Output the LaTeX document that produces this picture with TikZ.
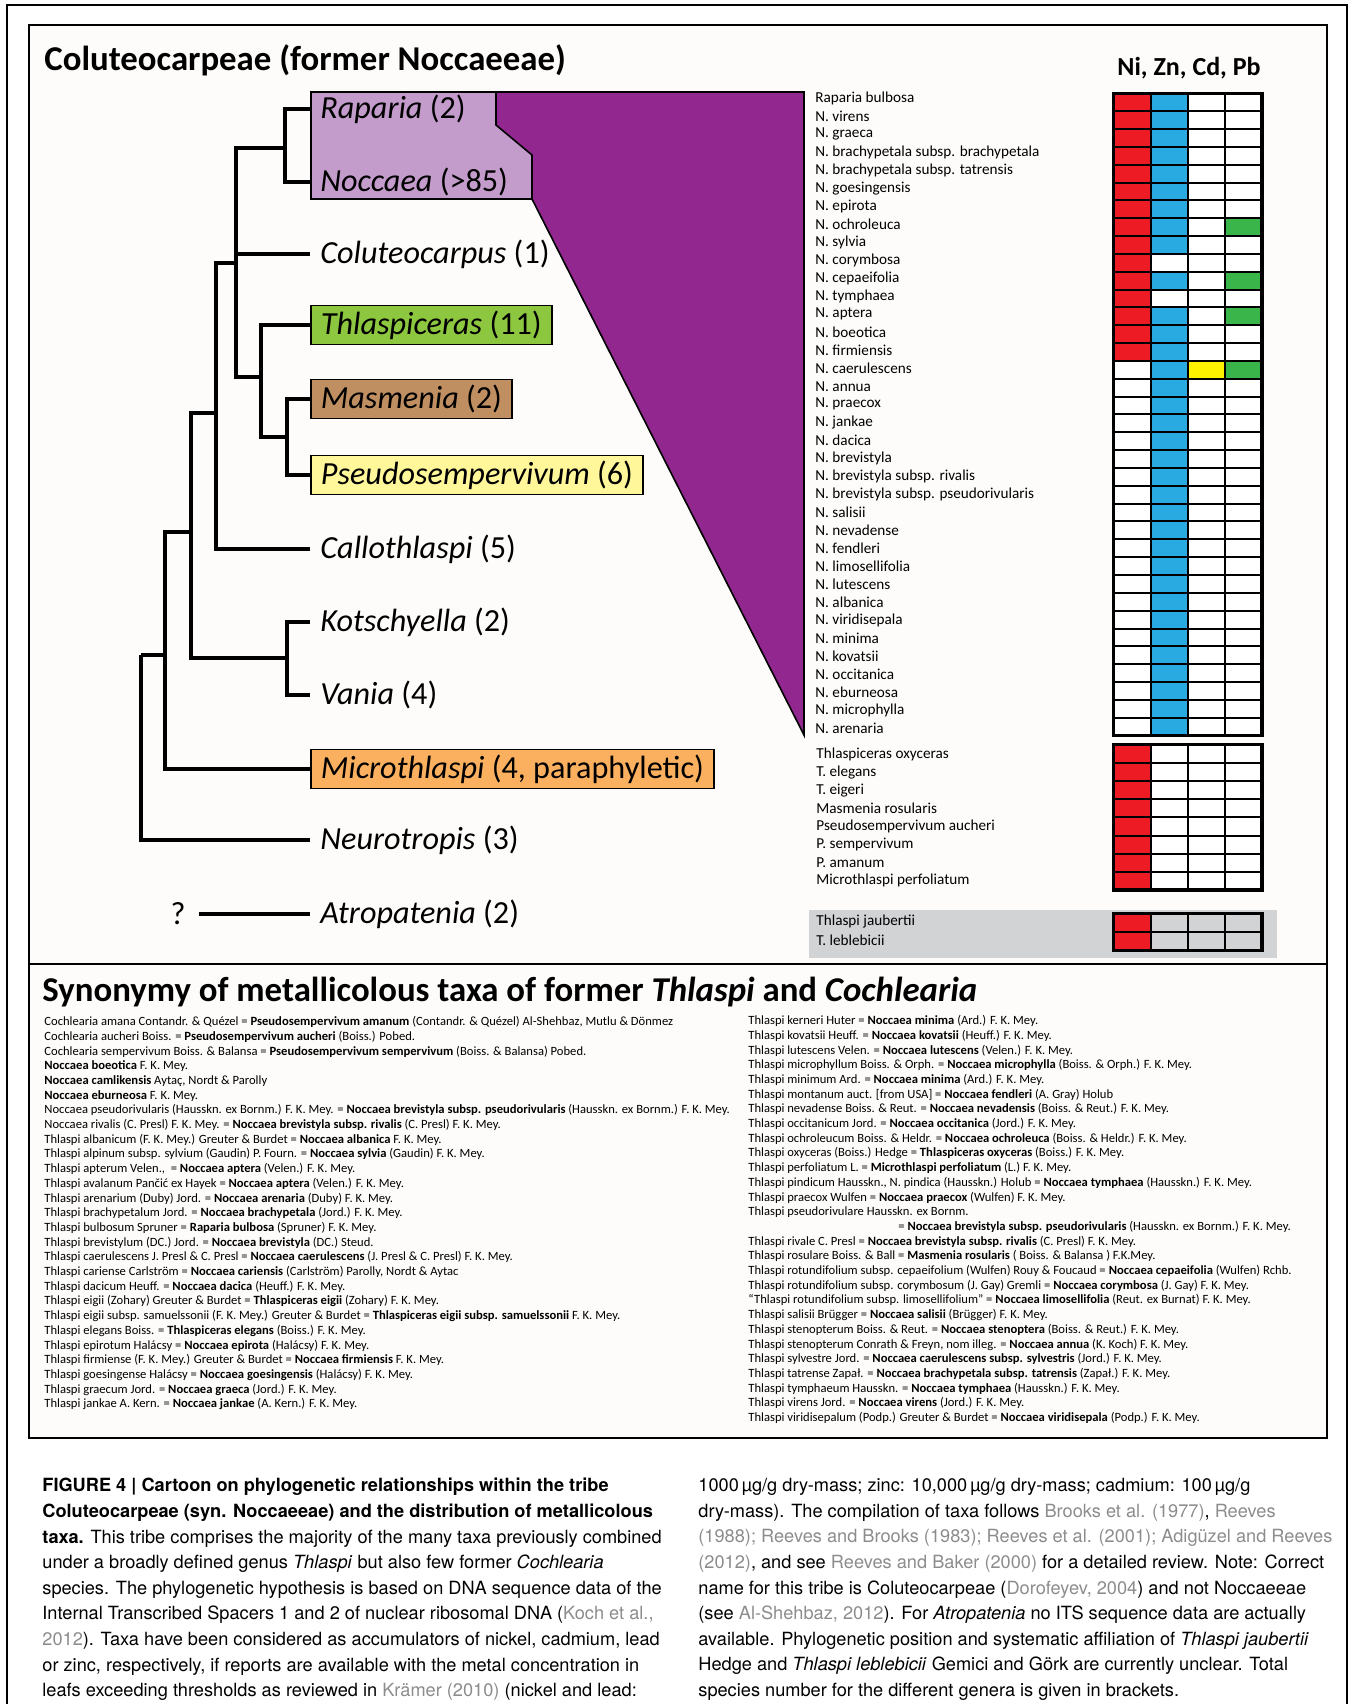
\documentclass[tikz,border=0pt]{standalone}
\usepackage{fontspec}
\setmainfont{Carlito}
\newfontfamily\capfont{TeX Gyre Heros}
\usetikzlibrary{calc}
\definecolor{panel}{RGB}{254,252,250}
\definecolor{lightpurple}{RGB}{196,156,204}
\definecolor{darkpurple}{RGB}{146,39,143}
\definecolor{thlgreen}{RGB}{141,198,63}
\definecolor{masbrown}{RGB}{192,143,97}
\definecolor{pseudoyellow}{RGB}{255,247,153}
\definecolor{microorange}{RGB}{251,176,96}
\definecolor{nired}{RGB}{237,28,36}
\definecolor{znblue}{RGB}{41,171,226}
\definecolor{cdyellow}{RGB}{255,242,0}
\definecolor{pbgreen}{RGB}{57,181,74}
\definecolor{graybg}{RGB}{209,211,212}
\definecolor{linkgray}{RGB}{140,140,140}
\tikzset{
    branch/.style = {
        line width=2.2pt,
        line join=miter,
        },
    taxon/.style = {
        anchor=west,
        inner xsep=5pt,
        inner ysep=0pt,
        minimum height=19.5pt,
        font=\fontsize{16.1}{18}\selectfont,
        },
    boxed/.style = {
        taxon,
        draw,
        line width=0.9pt,
        fill=#1,
        },
    species/.style = {
        anchor=west,
        inner sep=0pt,
        font=\fontsize{7.6}{9}\selectfont,
        },
    cell/.style = {
        draw,
        line width=1pt,
        },
    gridframe/.style = {
        draw,
        line width=1.6pt,
        },
    heading/.style = {
        anchor=base west,
        inner sep=0pt,
        font=\fontsize{17.4}{20}\selectfont\bfseries,
        },
    synonym/.style = {
        anchor=north west,
        inner sep=0pt,
        align=left,
        font=\fontsize{6.3}{7.35}\selectfont,
        },
    caption/.style = {
        anchor=north west,
        inner sep=0pt,
        align=left,
        font=\capfont\fontsize{9.1}{12.8}\selectfont,
        },
}

\begin{document}
\begin{tikzpicture}[x=0.5pt,y=-0.5pt]
    \useasboundingbox (0,0) rectangle (1356,1704);
    % page and panels
    \draw[line width=0.6pt] (7,1704) -- (7,5) -- (1347,5) -- (1347,1704);
    \draw[line width=1.4pt, fill=panel] (29,25) rectangle (1327,1438);
    \draw[line width=1.4pt] (29,964) -- (1327,964);
    \fill[graybg] (809,910) rectangle (1277,958);

    \node[heading] (title) at (44,70) {Coluteocarpeae (former Noccaeeae)};
    \node[anchor=base, inner sep=0pt, font=\fontsize{13}{15}\selectfont\bfseries] (metals) at (1189,75) {Ni, Zn, Cd, Pb};

    % Raparia + Noccaea, opened up into the species list
    \draw[line width=0.8pt, fill=lightpurple] (311,92) rectangle (532,199);
    \draw[line width=0.8pt, fill=darkpurple] (496,92) -- (804,92) -- (804,735) -- (532,199) -- (532,155) -- (496,125) -- cycle;

    \node[taxon] (raparia) at (310,109) {\textit{Raparia} (2)};
    \node[taxon] (noccaea) at (310,182) {\textit{Noccaea} (>85)};
    \node[taxon] (colut) at (310,254) {\textit{Coluteocarpus} (1)};
    \node[boxed=thlgreen] (thlasp) at (310,325) {\textit{Thlaspiceras} (11)};
    \node[boxed=masbrown] (masm) at (310,399) {\textit{Masmenia} (2)};
    \node[boxed=pseudoyellow] (pseudo) at (310,475) {\textit{Pseudosempervivum} (6)};
    \node[taxon] (callo) at (310,549) {\textit{Callothlaspi} (5)};
    \node[taxon] (kotsch) at (310,622) {\textit{Kotschyella} (2)};
    \node[taxon] (vania) at (310,695) {\textit{Vania} (4)};
    \node[boxed=microorange] (micro) at (310,769) {\textit{Microthlaspi} (4, paraphyletic)};
    \node[taxon] (neuro) at (310,840) {\textit{Neurotropis} (3)};
    \node[taxon] (atrop) at (310,914) {\textit{Atropatenia} (2)};
    \node[font=\fontsize{16.1}{18}\selectfont, inner xsep=6.5pt] (q) at (178,914) {?};

    \coordinate (n1) at (285,148);
    \coordinate (n2) at (236,263);
    \coordinate (n3) at (261,377);
    \coordinate (n4) at (287,437);
    \coordinate (n5) at (216,413);
    \coordinate (n6) at (191,532);
    \coordinate (n7) at (287,658);
    \coordinate (n8) at (165,655);
    \coordinate (n9) at (141,655);

    \draw[branch] (n1) |- (raparia.west);
    \draw[branch] (n1) |- (noccaea.west);
    \draw[branch] (n2) |- (n1);
    \draw[branch] (n2) |- (colut.west);
    \draw[branch] (n2) |- (n3);
    \draw[branch] (n3) |- (thlasp.west);
    \draw[branch] (n3) |- (n4);
    \draw[branch] (n4) |- (masm.west);
    \draw[branch] (n4) |- (pseudo.west);
    \draw[branch] (n5) |- (n2);
    \draw[branch] (n5) |- (callo.west);
    \draw[branch] (n6) |- (n5);
    \draw[branch] (n6) |- (n7);
    \draw[branch] (n7) |- (kotsch.west);
    \draw[branch] (n7) |- (vania.west);
    \draw[branch] (n8) |- (n6);
    \draw[branch] (n8) |- (micro.west);
    \draw[branch] (n9) |- (n8);
    \draw[branch] (n9) |- (neuro.west);
    \draw[branch] (q) -- (atrop);

    % Noccaea clade: Ni, Zn, Cd, Pb
    \foreach \nm/\cNi/\cZn/\cCd/\cPb [count=\i from 0] in {
        Raparia bulbosa/nired/znblue/white/white,
        N. virens/nired/znblue/white/white,
        N. graeca/nired/znblue/white/white,
        N. brachypetala subsp. brachypetala/nired/znblue/white/white,
        N. brachypetala subsp. tatrensis/nired/znblue/white/white,
        N. goesingensis/nired/znblue/white/white,
        N. epirota/nired/znblue/white/white,
        N. ochroleuca/nired/znblue/white/pbgreen,
        N. sylvia/nired/znblue/white/white,
        N. corymbosa/nired/white/white/white,
        N. cepaeifolia/nired/znblue/white/pbgreen,
        N. tymphaea/nired/white/white/white,
        N. aptera/nired/znblue/white/pbgreen,
        N. boeotica/nired/znblue/white/white,
        N. firmiensis/nired/znblue/white/white,
        N. caerulescens/white/znblue/cdyellow/pbgreen,
        N. annua/white/znblue/white/white,
        N. praecox/white/znblue/white/white,
        N. jankae/white/znblue/white/white,
        N. dacica/white/znblue/white/white,
        N. brevistyla/white/znblue/white/white,
        N. brevistyla subsp. rivalis/white/znblue/white/white,
        N. brevistyla subsp. pseudorivularis/white/znblue/white/white,
        N. salisii/white/znblue/white/white,
        N. nevadense/white/znblue/white/white,
        N. fendleri/white/znblue/white/white,
        N. limosellifolia/white/znblue/white/white,
        N. lutescens/white/znblue/white/white,
        N. albanica/white/znblue/white/white,
        N. viridisepala/white/znblue/white/white,
        N. minima/white/znblue/white/white,
        N. kovatsii/white/znblue/white/white,
        N. occitanica/white/znblue/white/white,
        N. eburneosa/white/znblue/white/white,
        N. microphylla/white/znblue/white/white,
        N. arenaria/white/znblue/white/white}{
        \node[species] (sp\i) at (815,{98.3+18*\i}) {\nm};
        \foreach \c [count=\j from 0] in {\cNi,\cZn,\cCd,\cPb}
            \draw[cell, fill=\c] ({1113.5+37.1*\j},{93.3+17.84*\i}) rectangle ++(37.1,17.84);
    }
    \draw[gridframe] (1113.5,93.3) rectangle (1261.9,735.5);

    % other genera
    \foreach \nm [count=\i from 0] in {Thlaspiceras oxyceras, T. elegans, T. eigeri,
        Masmenia rosularis, Pseudosempervivum aucheri, P. sempervivum, P. amanum,
        Microthlaspi perfoliatum}{
        \node[species] (gen\i) at (816,{754.5+17.97*\i}) {\nm};
        \foreach \c [count=\j from 0] in {nired,white,white,white}
            \draw[cell, fill=\c] ({1113.5+37.1*\j},{744.8+18.15*\i}) rectangle ++(37.1,18.15);
    }
    \draw[gridframe] (1113.5,744.8) rectangle (1261.9,890);

    % unclear position
    \foreach \nm [count=\i from 0] in {Thlaspi jaubertii, T. leblebicii}{
        \node[species] (unc\i) at (816,{922+18.4*\i}) {\nm};
        \foreach \c [count=\j from 0] in {nired,none,none,none}
            \draw[cell, fill=\c] ({1113.5+37.1*\j},{913.4+18.45*\i}) rectangle ++(37.1,18.45);
    }
    \draw[gridframe] (1113.5,913.4) rectangle (1261.9,950.3);

    % synonymy
    \node[heading] (syntitle) at (42,1001) {Synonymy of metallicolous taxa of former \textit{Thlaspi} and \textit{Cochlearia}};
    \node[synonym] (synleft) at (44,1016) {%
        Cochlearia amana Contandr. \& Quézel = \textbf{Pseudosempervivum amanum} (Contandr. \& Quézel) Al-Shehbaz, Mutlu \& Dönmez\\
        Cochlearia aucheri Boiss. = \textbf{Pseudosempervivum aucheri} (Boiss.) Pobed.\\
        Cochlearia sempervivum Boiss. \& Balansa = \textbf{Pseudosempervivum sempervivum} (Boiss. \& Balansa) Pobed.\\
        \textbf{Noccaea boeotica} F. K. Mey.\\
        \textbf{Noccaea camlikensis} Aytaç, Nordt \& Parolly\\
        \textbf{Noccaea eburneosa} F. K. Mey.\\
        Noccaea pseudorivularis (Hausskn. ex Bornm.) F. K. Mey. = \textbf{Noccaea brevistyla subsp. pseudorivularis} (Hausskn. ex Bornm.) F. K. Mey.\\
        Noccaea rivalis (C. Presl) F. K. Mey. = \textbf{Noccaea brevistyla subsp. rivalis} (C. Presl) F. K. Mey.\\
        Thlaspi albanicum (F. K. Mey.) Greuter \& Burdet = \textbf{Noccaea albanica} F. K. Mey.\\
        Thlaspi alpinum subsp. sylvium (Gaudin) P. Fourn. = \textbf{Noccaea sylvia} (Gaudin) F. K. Mey.\\
        Thlaspi apterum Velen., ~= \textbf{Noccaea aptera} (Velen.) F. K. Mey.\\
        Thlaspi avalanum Pančić ex Hayek = \textbf{Noccaea aptera} (Velen.) F. K. Mey.\\
        Thlaspi arenarium (Duby) Jord. = \textbf{Noccaea arenaria} (Duby) F. K. Mey.\\
        Thlaspi brachypetalum Jord. = \textbf{Noccaea brachypetala} (Jord.) F. K. Mey.\\
        Thlaspi bulbosum Spruner = \textbf{Raparia bulbosa} (Spruner) F. K. Mey.\\
        Thlaspi brevistylum (DC.) Jord. = \textbf{Noccaea brevistyla} (DC.) Steud.\\
        Thlaspi caerulescens J. Presl \& C. Presl = \textbf{Noccaea caerulescens} (J. Presl \& C. Presl) F. K. Mey.\\
        Thlaspi cariense Carlström = \textbf{Noccaea cariensis} (Carlström) Parolly, Nordt \& Aytac\\
        Thlaspi dacicum Heuff. = \textbf{Noccaea dacica} (Heuff.) F. K. Mey.\\
        Thlaspi eigii (Zohary) Greuter \& Burdet = \textbf{Thlaspiceras eigii} (Zohary) F. K. Mey.\\
        Thlaspi eigii subsp. samuelssonii (F. K. Mey.) Greuter \& Burdet = \textbf{Thlaspiceras eigii subsp. samuelssonii} F. K. Mey.\\
        Thlaspi elegans Boiss. = \textbf{Thlaspiceras elegans} (Boiss.) F. K. Mey.\\
        Thlaspi epirotum Halácsy = \textbf{Noccaea epirota} (Halácsy) F. K. Mey.\\
        Thlaspi firmiense (F. K. Mey.) Greuter \& Burdet = \textbf{Noccaea firmiensis} F. K. Mey.\\
        Thlaspi goesingense Halácsy = \textbf{Noccaea goesingensis} (Halácsy) F. K. Mey.\\
        Thlaspi graecum Jord. = \textbf{Noccaea graeca} (Jord.) F. K. Mey.\\
        Thlaspi jankae A. Kern. = \textbf{Noccaea jankae} (A. Kern.) F. K. Mey.};
    \node[synonym] (synright) at (748,1015) {%
        Thlaspi kerneri Huter = \textbf{Noccaea minima} (Ard.) F. K. Mey.\\
        Thlaspi kovatsii Heuff. = \textbf{Noccaea kovatsii} (Heuff.) F. K. Mey.\\
        Thlaspi lutescens Velen. = \textbf{Noccaea lutescens} (Velen.) F. K. Mey.\\
        Thlaspi microphyllum Boiss. \& Orph. = \textbf{Noccaea microphylla} (Boiss. \& Orph.) F. K. Mey.\\
        Thlaspi minimum Ard. = \textbf{Noccaea minima} (Ard.) F. K. Mey.\\
        Thlaspi montanum auct. [from USA] = \textbf{Noccaea fendleri} (A. Gray) Holub\\
        Thlaspi nevadense Boiss. \& Reut. = \textbf{Noccaea nevadensis} (Boiss. \& Reut.) F. K. Mey.\\
        Thlaspi occitanicum Jord. = \textbf{Noccaea occitanica} (Jord.) F. K. Mey.\\
        Thlaspi ochroleucum Boiss. \& Heldr. = \textbf{Noccaea ochroleuca} (Boiss. \& Heldr.) F. K. Mey.\\
        Thlaspi oxyceras (Boiss.) Hedge = \textbf{Thlaspiceras oxyceras} (Boiss.) F. K. Mey.\\
        Thlaspi perfoliatum L. = \textbf{Microthlaspi perfoliatum} (L.) F. K. Mey.\\
        Thlaspi pindicum Hausskn., N. pindica (Hausskn.) Holub = \textbf{Noccaea tymphaea} (Hausskn.) F. K. Mey.\\
        Thlaspi praecox Wulfen = \textbf{Noccaea praecox} (Wulfen) F. K. Mey.\\
        Thlaspi pseudorivulare Hausskn. ex Bornm.\\
        \hspace*{75pt}= \textbf{Noccaea brevistyla subsp. pseudorivularis} (Hausskn. ex Bornm.) F. K. Mey.\\
        Thlaspi rivale C. Presl = \textbf{Noccaea brevistyla subsp. rivalis} (C. Presl) F. K. Mey.\\
        Thlaspi rosulare Boiss. \& Ball = \textbf{Masmenia rosularis} ( Boiss. \& Balansa ) F.K.Mey.\\
        Thlaspi rotundifolium subsp. cepaeifolium (Wulfen) Rouy \& Foucaud = \textbf{Noccaea cepaeifolia} (Wulfen) Rchb.\\
        Thlaspi rotundifolium subsp. corymbosum (J. Gay) Gremli = \textbf{Noccaea corymbosa} (J. Gay) F. K. Mey.\\
        ``Thlaspi rotundifolium subsp. limosellifolium'' = \textbf{Noccaea limosellifolia} (Reut. ex Burnat) F. K. Mey.\\
        Thlaspi salisii Brügger = \textbf{Noccaea salisii} (Brügger) F. K. Mey.\\
        Thlaspi stenopterum Boiss. \& Reut. = \textbf{Noccaea stenoptera} (Boiss. \& Reut.) F. K. Mey.\\
        Thlaspi stenopterum Conrath \& Freyn, nom illeg. = \textbf{Noccaea annua} (K. Koch) F. K. Mey.\\
        Thlaspi sylvestre Jord. = \textbf{Noccaea caerulescens subsp. sylvestris} (Jord.) F. K. Mey.\\
        Thlaspi tatrense Zapał. = \textbf{Noccaea brachypetala subsp. tatrensis} (Zapał.) F. K. Mey.\\
        Thlaspi tymphaeum Hausskn. = \textbf{Noccaea tymphaea} (Hausskn.) F. K. Mey.\\
        Thlaspi virens Jord. = \textbf{Noccaea virens} (Jord.) F. K. Mey.\\
        Thlaspi viridisepalum (Podp.) Greuter \& Burdet = \textbf{Noccaea viridisepala} (Podp.) F. K. Mey.};

    % figure caption
    \node[caption] (capleft) at (42,1478) {%
        \textbf{FIGURE 4 | Cartoon on phylogenetic relationships within the tribe}\\
        \textbf{Coluteocarpeae (syn. Noccaeeae) and the distribution of metallicolous}\\
        \textbf{taxa.} This tribe comprises the majority of the many taxa previously combined\\
        under a broadly defined genus \textit{Thlaspi} but also few former \textit{Cochlearia}\\
        species. The phylogenetic hypothesis is based on DNA sequence data of the\\
        Internal Transcribed Spacers 1 and 2 of nuclear ribosomal DNA (\textcolor{linkgray}{Koch et al.,}\\
        \textcolor{linkgray}{2012}). Taxa have been considered as accumulators of nickel, cadmium, lead\\
        or zinc, respectively, if reports are available with the metal concentration in\\
        leafs exceeding thresholds as reviewed in \textcolor{linkgray}{Krämer (2010)} (nickel and lead:};
    \node[caption] (capright) at (698,1478) {%
        1000\,µg/g dry-mass; zinc: 10,000\,µg/g dry-mass; cadmium: 100\,µg/g\\
        dry-mass). The compilation of taxa follows \textcolor{linkgray}{Brooks et al. (1977)}, \textcolor{linkgray}{Reeves}\\
        \textcolor{linkgray}{(1988); Reeves and Brooks (1983); Reeves et al. (2001); Adigüzel and Reeves}\\
        \textcolor{linkgray}{(2012)}, and see \textcolor{linkgray}{Reeves and Baker (2000)} for a detailed review. Note: Correct\\
        name for this tribe is Coluteocarpeae (\textcolor{linkgray}{Dorofeyev, 2004}) and not Noccaeeae\\
        (see \textcolor{linkgray}{Al-Shehbaz, 2012}). For \textit{Atropatenia} no ITS sequence data are actually\\
        available. Phylogenetic position and systematic affiliation of \textit{Thlaspi jaubertii}\\
        Hedge and \textit{Thlaspi leblebicii} Gemici and Görk are currently unclear. Total\\
        species number for the different genera is given in brackets.};
\end{tikzpicture}
\end{document}
